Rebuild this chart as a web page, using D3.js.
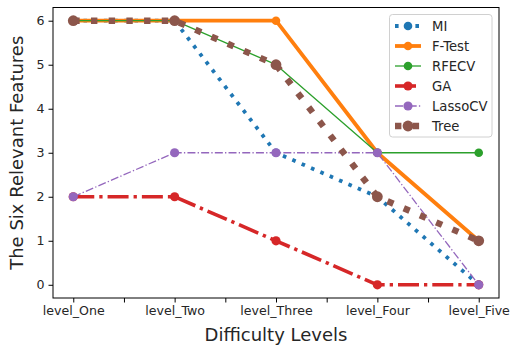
<!DOCTYPE html>
<html>
<head>
<meta charset="utf-8">
<script src="https://cdn.jsdelivr.net/npm/d3@7"></script>
<style>
  html, body { margin: 0; padding: 0; background: #fff; }
  svg { display: block; font-family: "DejaVu Sans", sans-serif; }
</style>
</head>
<body>
<svg id="chart" width="511" height="352"></svg>
<script>
// Difficulty levels on the x axis
const levels = ["level_One", "level_Two", "level_Three", "level_Four", "level_Five"];
// Number of the six relevant features found by each selection method
const mi      = [6, 6, 3, 2, 0];
const fTest   = [6, 6, 6, 3, 1];
const rfecv   = [6, 6, 5, 3, 3];
const ga      = [2, 2, 1, 0, 0];
const lassoCV = [2, 3, 3, 3, 0];
const tree    = [6, 6, 5, 2, 1];
const yTicks  = [0, 1, 2, 3, 4, 5, 6];

const series = [
  { name: "MI",      values: mi,      color: "#1f77b4", width: 3.8, dash: "3.6,6.6",       r: 4.3 },
  { name: "F-Test",  values: fTest,   color: "#ff7f0e", width: 3.8, dash: null,            r: 4.3 },
  { name: "RFECV",   values: rfecv,   color: "#2ca02c", width: 1.3, dash: null,            r: 4.3 },
  { name: "GA",      values: ga,      color: "#d62728", width: 3.6, dash: "21,5,3.3,5",    r: 4.6 },
  { name: "LassoCV", values: lassoCV, color: "#9467bd", width: 1.3, dash: "8,2.2,1.3,2.2", r: 4.6 },
  { name: "Tree",    values: tree,    color: "#8c564b", width: 6.4, dash: "6.4,11.3",      r: 5.4 }
];

const svg = d3.select("#chart");
const plotLeft = 53, plotRight = 499, plotTop = 7.5, plotBottom = 298;

const x = d3.scaleLinear().domain([-0.2, 4.2]).range([plotLeft, plotRight]);
const y = d3.scaleLinear().domain([-0.3, 6.3]).range([plotBottom, plotTop]);

const textColor = "#262626";

// x axis: labelled at each level, extra ticks half way between
const xAxis = d3.axisBottom(x)
  .tickValues(d3.range(0, 4.01, 0.5))
  .tickSize(4.5).tickPadding(4)
  .tickFormat(d => Number.isInteger(d) ? levels[d] : "");
const gx = svg.append("g").attr("transform", `translate(0,${plotBottom})`).call(xAxis);
gx.select(".domain").remove();
gx.selectAll("line").attr("stroke", "#000").attr("stroke-width", 1);
gx.selectAll("text").attr("fill", textColor).attr("font-size", 12.6)
  .attr("font-family", "DejaVu Sans");

const yAxis = d3.axisLeft(y).tickValues(yTicks).tickSize(4.5).tickPadding(4)
  .tickFormat(d3.format("d"));
const gy = svg.append("g").attr("transform", `translate(${plotLeft},0)`).call(yAxis);
gy.select(".domain").remove();
gy.selectAll("line").attr("stroke", "#000").attr("stroke-width", 1);
gy.selectAll("text").attr("fill", textColor).attr("font-size", 12.6)
  .attr("font-family", "DejaVu Sans");

// plot frame
svg.append("rect")
  .attr("x", plotLeft).attr("y", plotTop)
  .attr("width", plotRight - plotLeft).attr("height", plotBottom - plotTop)
  .attr("fill", "none").attr("stroke", "#000").attr("stroke-width", 1);

const line = d3.line().x((d, i) => x(i)).y(d => y(d));

const plot = svg.append("g");
series.forEach(s => {
  const g = plot.append("g");
  g.append("path")
    .attr("d", line(s.values))
    .attr("fill", "none")
    .attr("stroke", s.color)
    .attr("stroke-width", s.width)
    .attr("stroke-dasharray", s.dash)
    .attr("stroke-linejoin", "round");
  g.selectAll("circle").data(s.values).join("circle")
    .attr("cx", (d, i) => x(i)).attr("cy", d => y(d))
    .attr("r", s.r).attr("fill", s.color);
});

// axis titles
svg.append("text")
  .attr("x", (plotLeft + plotRight) / 2).attr("y", 341)
  .attr("text-anchor", "middle").attr("font-size", 18).attr("fill", textColor)
  .text("Difficulty Levels");
svg.append("text")
  .attr("transform", `translate(23,${(plotTop + plotBottom) / 2}) rotate(-90)`)
  .attr("text-anchor", "middle").attr("font-size", 18).attr("fill", textColor)
  .text("The Six Relevant Features");

// legend
const lg = svg.append("g");
lg.append("rect")
  .attr("x", 389.5).attr("y", 14.5).attr("width", 102.5).attr("height", 122.5)
  .attr("rx", 3).attr("fill", "#fff").attr("fill-opacity", 0.8)
  .attr("stroke", "#d0d0d0").attr("stroke-width", 1);
series.forEach((s, i) => {
  const cy = 26 + i * 20;
  const row = lg.append("g");
  row.append("line")
    .attr("x1", 395).attr("x2", 421).attr("y1", cy).attr("y2", cy)
    .attr("stroke", s.color).attr("stroke-width", s.width)
    .attr("stroke-dasharray", s.dash);
  row.append("circle").attr("cx", 408).attr("cy", cy).attr("r", s.r).attr("fill", s.color);
  row.append("text")
    .attr("x", 432).attr("y", cy).attr("dy", "0.36em")
    .attr("font-size", 13.2).attr("fill", textColor)
    .text(s.name);
});
</script>
</body>
</html>
